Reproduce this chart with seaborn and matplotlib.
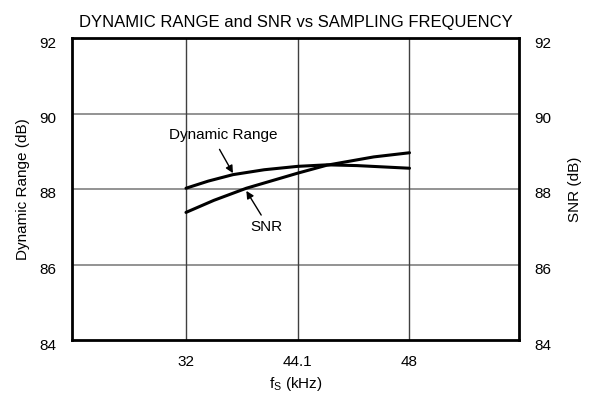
import matplotlib
matplotlib.use("Agg")
import matplotlib.pyplot as plt
import matplotlib.transforms as mtransforms
import seaborn as sns
import pandas as pd

# Data (x = tick position index: 1 -> 32 kHz, 2 -> 44.1 kHz, 3 -> 48 kHz)
dr_pos = [1.0, 1.2, 1.42, 1.7, 2.0, 2.26, 2.53, 3.0]
dr_val = [88.02, 88.21, 88.38, 88.51, 88.6, 88.64, 88.62, 88.55]
snr_pos = [1.0, 1.25, 1.54, 2.0, 2.26, 2.68, 3.0]
snr_val = [87.38, 87.7, 88.02, 88.42, 88.63, 88.85, 88.96]
tick_pos = [1, 2, 3]
tick_labels = ["32", "44.1", "48"]
y_ticks = [84, 86, 88, 90, 92]

sns.set_theme(style="white")
plt.rcParams['font.family'] = ['Liberation Sans', 'DejaVu Sans']
plt.rcParams['text.color'] = 'black'
plt.rcParams['axes.labelcolor'] = 'black'

fig = plt.figure(figsize=(6.02, 4.01), dpi=100)
ax = fig.add_axes([72/602, 1-340/401, (519-72)/602, (340-38)/401])

df_dr = pd.DataFrame({"x": dr_pos, "y": dr_val})
df_snr = pd.DataFrame({"x": snr_pos, "y": snr_val})
sns.lineplot(data=df_dr, x="x", y="y", ax=ax, color="black", lw=2.2)
sns.lineplot(data=df_snr, x="x", y="y", ax=ax, color="black", lw=2.2)

ax.set_xlim(-0.02, 3.98)
ax.set_ylim(84, 92)
ax.set_xticks(tick_pos)
ax.set_xticklabels(tick_labels)
ax.set_yticks(y_ticks)
for v in [86, 88, 90]:
    ax.axhline(v, color="#808080", lw=1.2, zorder=0)
for p in tick_pos:
    ax.axvline(p, color="#404040", lw=1.0, zorder=0)

for s in ax.spines.values():
    s.set_color("black")
    s.set_linewidth(2)

ax.tick_params(axis="both", length=0, labelsize=11, colors="black")
ax.tick_params(axis="y", pad=11)
ax.tick_params(axis="x", pad=11)
ax.set_xlabel(r"f$_\mathregular{S}$ (kHz)", fontsize=11, labelpad=4, color="black")
ax.set_ylabel("Dynamic Range (dB)", fontsize=11, labelpad=7, color="black")
ax.set_title("DYNAMIC RANGE and SNR vs SAMPLING FREQUENCY", fontsize=12, pad=8, color="black")

ax2 = ax.twinx()
ax2.set_ylim(84, 92)
ax2.set_yticks(y_ticks)
ax2.tick_params(axis="y", length=0, labelsize=11, pad=11, colors="black")
ax2.set_ylabel("SNR (dB)", fontsize=11, labelpad=12, color="black")
for s in ax2.spines.values():
    s.set_visible(False)

off = mtransforms.ScaledTranslation(0, -4/100, fig.dpi_scale_trans)
for lab in ax.get_yticklabels() + ax2.get_yticklabels():
    lab.set_transform(lab.get_transform() + off)

arrow = dict(arrowstyle="-|>", color="black", lw=1, shrinkA=0, shrinkB=0, mutation_scale=11)
ax.annotate("", xy=(1.42, 88.42), xytext=(1.30, 89.05), arrowprops=arrow)
ax.text(1.33, 89.43, "Dynamic Range", ha="center", va="center", fontsize=11, color="black")
ax.annotate("", xy=(1.54, 87.95), xytext=(1.673, 87.31), arrowprops=arrow)
ax.text(1.72, 86.99, "SNR", ha="center", va="center", fontsize=11, color="black")

fig.savefig("out.png", dpi=100)
